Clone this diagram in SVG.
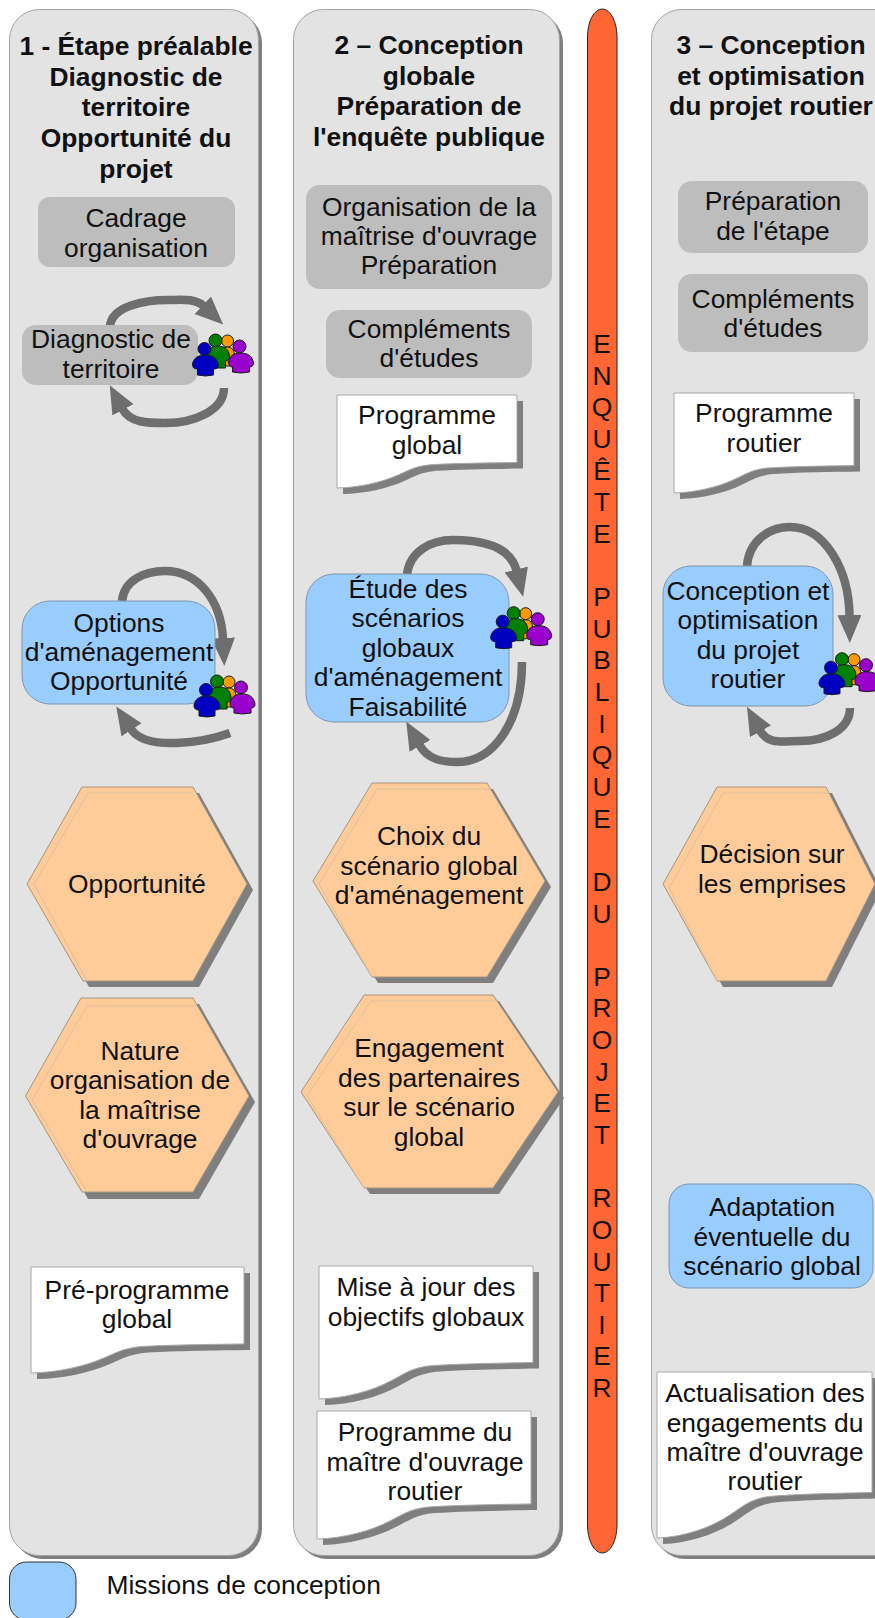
<svg xmlns="http://www.w3.org/2000/svg" width="875" height="1618" viewBox="0 0 875 1618">
<style>
text{font-family:"Liberation Sans",Arial,sans-serif;fill:#111;text-anchor:middle}
.t{font-size:26.400px}
.h{font-size:26.400px;font-weight:bold}
.panel{fill:#e3e3e3;stroke:#a3a3a3;stroke-width:1}
.pshadow{fill:#7f7f7f}
.gray{fill:#bdbdbd}
.blue{fill:#99ccff;stroke:#7d97ad;stroke-width:1}
.hex{fill:#ffcc99;stroke:#a3957f;stroke-width:1}
.inner{fill:none;stroke:#dcc0a0;stroke-width:1}
.sh{fill:#7f7f7f}
.doc{fill:#fff;stroke:#a8a8a8;stroke-width:1}
.docs{fill:#7f7f7f}
.arr{fill:none;stroke:#6e6e6e;stroke-width:8.500;marker-end:url(#head)}
</style>
<defs>
<marker id="head" markerUnits="userSpaceOnUse" markerWidth="30" markerHeight="26" refX="1" refY="12" orient="auto"><path d="M0 0L28 12L0 24Z" fill="#6e6e6e"/></marker>
<path id="docS" vector-effect="non-scaling-stroke" d="M0 0H100V72.600C85 73 65 73.500 52 75C43 76.500 39 82 34 86C25 94 12 99.500 0 100Z"/>
<g id="people" stroke-linejoin="round" stroke="#1a1a1a" stroke-width="1">
<g fill="#ff9900"><circle cx="35" cy="7" r="6"/><path d="M28 20Q29 13 35 13Q41 13 42 20V32H30Z"/></g>
<g fill="#008000"><circle cx="23" cy="6.500" r="6.500"/><path d="M15 22C15 15 19 12 25 12C32 12 36 15 37 22C37 26 35 27 33 27V34H18V27C16 27 15 26 15 22Z"/></g>
<g fill="#9900cc"><circle cx="47" cy="12.500" r="6.500"/><path d="M36 28C37 22 41 19 48 19C55 19 60 22 61 29C61 32 59 33 57 33V38Q48 40 40 38V33C38 33 36 32 36 28Z"/></g>
<g fill="#0000c0"><circle cx="12" cy="15" r="6.500"/><path d="M0 30C1 24 6 21 12 21C19 21 25 24 26 31C26 34 24 35 21 35V41Q13 43 5 41V35C2 35 0 34 0 30Z"/></g>
</g>
</defs>

<g id="panels">
<rect class="pshadow" x="13" y="13" width="249" height="1546" rx="30"/>
<rect class="panel" x="9.500" y="9.500" width="249" height="1546" rx="30"/>
<rect class="pshadow" x="297" y="13" width="266" height="1546" rx="30"/>
<rect class="panel" x="293.500" y="9.500" width="266" height="1546" rx="30"/>
<rect class="pshadow" x="655" y="13" width="300" height="1546" rx="30"/>
<rect class="panel" x="651.500" y="9.500" width="300" height="1546" rx="30"/>
</g>

<g id="titles">
<text class="h"><tspan x="136" y="55">1 - Étape préalable</tspan><tspan x="136" y="86">Diagnostic de</tspan><tspan x="136" y="116">territoire</tspan><tspan x="136" y="147">Opportunité du</tspan><tspan x="136" y="178">projet</tspan></text>
<text class="h"><tspan x="429" y="54">2 – Conception</tspan><tspan x="429" y="85">globale</tspan><tspan x="429" y="115">Préparation de</tspan><tspan x="429" y="146">l'enquête publique</tspan></text>
<text class="h"><tspan x="771" y="54">3 – Conception</tspan><tspan x="771" y="85">et optimisation</tspan><tspan x="771" y="115">du projet routier</tspan></text>
</g>

<g id="connectors">
<path class="arr" d="M110 326C112 306 145 300 168 300C180 300 195 298 203.500 306"/>
<path class="arr" d="M224 388C224 410 195 423 165 423C148 423 130 423 122.500 409"/>
<path class="arr" d="M122 601C124 580 145 571 165 571C198 571 221 600 223 639"/>
<path class="arr" d="M230 733C205 742 146 752 131 729"/>
<path class="arr" d="M407 574C410 552 430 540 453 540C480 540 510 545 516.500 570.500"/>
<path class="arr" d="M522 662C522 720 495 762 457 762C443 762 428 760 419.500 745"/>
<path class="arr" d="M747 566C749 540 770 527 790 527C825 527 849 570 849.500 616"/>
<path class="arr" d="M850 708C850 730 825 741 800 741C783 741 768 745 760 730.500"/>
</g>

<g id="n-cadrage"><rect class="gray" x="38" y="197" width="197" height="70" rx="12"/><text class="t"><tspan x="136" y="227">Cadrage</tspan><tspan x="136" y="257">organisation</tspan></text></g>
<g id="n-diagnostic"><rect class="gray" x="22" y="325" width="176" height="60" rx="14"/><text class="t"><tspan x="111" y="348">Diagnostic de</tspan><tspan x="111" y="378">territoire</tspan></text><use href="#people" x="192.500" y="334"/></g>
<g id="n-options"><rect class="blue" x="22" y="601" width="193" height="103" rx="28"/><text class="t"><tspan x="119" y="632">Options</tspan><tspan x="119" y="661">d'aménagement</tspan><tspan x="119" y="690">Opportunité</tspan></text><use href="#people" x="194" y="675"/></g>
<g id="n-opportunite"><polygon class="sh" points="33,890 88,793 199,793 253,890 199,987 89,987"/><polygon class="hex" points="27,884 82,787 193,787 247,884 193,981 83,981"/><polyline class="inner" points="193,793 88,793 34,884 87,981"/><text class="t" x="137" y="893">Opportunité</text></g>
<g id="n-nature"><polygon class="sh" points="32,1102 87,1004 199,1004 255,1102 199,1199 88,1199"/><polygon class="hex" points="25.500,1096 81,998 193,998 249,1096 193,1192 82,1192"/><polyline class="inner" points="196,1006 87,1006 32,1100 87,1192"/><text class="t"><tspan x="140" y="1060">Nature</tspan><tspan x="140" y="1089">organisation de</tspan><tspan x="140" y="1119">la maîtrise</tspan><tspan x="140" y="1148">d'ouvrage</tspan></text></g>
<g id="n-pre"><use class="docs" href="#docS" transform="translate(37 1273) scale(2.130 1.060)"/><use class="doc" href="#docS" transform="translate(31 1267) scale(2.130 1.060)"/><text class="t"><tspan x="137" y="1299">Pré-programme</tspan><tspan x="137" y="1328">global</tspan></text></g>

<g id="n-orga"><rect class="gray" x="306" y="185" width="246" height="104" rx="14"/><text class="t"><tspan x="429" y="216">Organisation de la</tspan><tspan x="429" y="245">maîtrise d'ouvrage</tspan><tspan x="429" y="274">Préparation</tspan></text></g>
<g id="n-comp2"><rect class="gray" x="326" y="310" width="206" height="68" rx="14"/><text class="t"><tspan x="429" y="338">Compléments</tspan><tspan x="429" y="367">d'études</tspan></text></g>
<g id="n-progglobal"><use class="docs" href="#docS" transform="translate(343 401) scale(1.800 .930)"/><use class="doc" href="#docS" transform="translate(337 395) scale(1.800 .930)"/><text class="t"><tspan x="427" y="424">Programme</tspan><tspan x="427" y="454">global</tspan></text></g>
<g id="n-etude"><rect class="blue" x="306" y="574" width="203" height="148" rx="28"/><text class="t"><tspan x="408" y="598">Étude des</tspan><tspan x="408" y="627">scénarios</tspan><tspan x="408" y="657">globaux</tspan><tspan x="408" y="686">d'aménagement</tspan><tspan x="408" y="716">Faisabilité</tspan></text><use href="#people" x="490.700" y="606.700"/></g>
<g id="n-choix"><polygon class="sh" points="319,887 378,789 493,789 551,887 493,983 378,983"/><polygon class="hex" points="313,881 372,783 487,783 545,881 487,977 372,977"/><polyline class="inner" points="490,789 377,789 319,884 372,977"/><text class="t"><tspan x="429" y="845">Choix du</tspan><tspan x="429" y="875">scénario global</tspan><tspan x="429" y="904">d'aménagement</tspan></text></g>
<g id="n-engagement"><polygon class="sh" points="307,1098 370,1001 499,1001 564,1098 499,1194 370,1194"/><polygon class="hex" points="301,1092 364,995 493,995 558,1092 493,1188 364,1188"/><polyline class="inner" points="496,1001 371,1001 307,1096 364,1188"/><text class="t"><tspan x="429" y="1057">Engagement</tspan><tspan x="429" y="1087">des partenaires</tspan><tspan x="429" y="1116">sur le scénario</tspan><tspan x="429" y="1146">global</tspan></text></g>
<g id="n-mise"><use class="docs" href="#docS" transform="translate(325 1272) scale(2.140 1.330)"/><use class="doc" href="#docS" transform="translate(319 1266) scale(2.140 1.330)"/><text class="t"><tspan x="426" y="1296">Mise à jour des</tspan><tspan x="426" y="1326">objectifs globaux</tspan></text></g>
<g id="n-progmo"><use class="docs" href="#docS" transform="translate(323 1417) scale(2.140 1.280)"/><use class="doc" href="#docS" transform="translate(317 1411) scale(2.140 1.280)"/><text class="t"><tspan x="425" y="1441">Programme du</tspan><tspan x="425" y="1471">maître d'ouvrage</tspan><tspan x="425" y="1500">routier</tspan></text></g>

<g id="n-enquete"><rect x="587.500" y="9" width="29.500" height="1544" rx="14.750" ry="28" fill="#ff6633" stroke="#222" stroke-width="1"/>
<text style="font-size:26.400px"><tspan x="602" y="353">E</tspan><tspan x="602" dy="31.640">N</tspan><tspan x="602" dy="31.640">Q</tspan><tspan x="602" dy="31.640">U</tspan><tspan x="602" dy="31.640">Ê</tspan><tspan x="602" dy="31.640">T</tspan><tspan x="602" dy="31.640">E</tspan><tspan x="602" dy="63.280">P</tspan><tspan x="602" dy="31.640">U</tspan><tspan x="602" dy="31.640">B</tspan><tspan x="602" dy="31.640">L</tspan><tspan x="602" dy="31.640">I</tspan><tspan x="602" dy="31.640">Q</tspan><tspan x="602" dy="31.640">U</tspan><tspan x="602" dy="31.640">E</tspan><tspan x="602" dy="63.280">D</tspan><tspan x="602" dy="31.640">U</tspan><tspan x="602" dy="63.280">P</tspan><tspan x="602" dy="31.640">R</tspan><tspan x="602" dy="31.640">O</tspan><tspan x="602" dy="31.640">J</tspan><tspan x="602" dy="31.640">E</tspan><tspan x="602" dy="31.640">T</tspan><tspan x="602" dy="63.280">R</tspan><tspan x="602" dy="31.640">O</tspan><tspan x="602" dy="31.640">U</tspan><tspan x="602" dy="31.640">T</tspan><tspan x="602" dy="31.640">I</tspan><tspan x="602" dy="31.640">E</tspan><tspan x="602" dy="31.640">R</tspan></text></g>

<g id="n-prep3"><rect class="gray" x="678" y="181" width="190" height="72" rx="14"/><text class="t"><tspan x="773" y="210">Préparation</tspan><tspan x="773" y="240">de l'étape</tspan></text></g>
<g id="n-comp3"><rect class="gray" x="678" y="274" width="190" height="78" rx="14"/><text class="t"><tspan x="773" y="308">Compléments</tspan><tspan x="773" y="337">d'études</tspan></text></g>
<g id="n-progroutier"><use class="docs" href="#docS" transform="translate(680 399) scale(1.800 1)"/><use class="doc" href="#docS" transform="translate(674 393) scale(1.800 1)"/><text class="t"><tspan x="764" y="422">Programme</tspan><tspan x="764" y="452">routier</tspan></text></g>
<g id="n-conception"><rect class="blue" x="663" y="566" width="170" height="140" rx="28"/><text class="t"><tspan x="748" y="600">Conception et</tspan><tspan x="748" y="629">optimisation</tspan><tspan x="748" y="659">du projet</tspan><tspan x="748" y="688">routier</tspan></text><use href="#people" x="819" y="652.700"/></g>
<g id="n-decision"><polygon class="sh" points="669,890 723,793 832,793 881,890 832,987 723,987"/><polygon class="hex" points="663,884 717,787 826,787 875,884 826,981 717,981"/><polyline class="inner" points="829,793 723,793 669,888 717,981"/><text class="t"><tspan x="772" y="863">Décision sur</tspan><tspan x="772" y="893">les emprises</tspan></text></g>
<g id="n-adaptation"><rect class="blue" x="669" y="1184" width="204" height="104" rx="20"/><text class="t"><tspan x="772" y="1216">Adaptation</tspan><tspan x="772" y="1246">éventuelle du</tspan><tspan x="772" y="1275">scénario global</tspan></text></g>
<g id="n-actualisation"><use class="docs" href="#docS" transform="translate(663 1378) scale(2.150 1.660)"/><use class="doc" href="#docS" transform="translate(657 1372) scale(2.150 1.660)"/><text class="t"><tspan x="765" y="1402">Actualisation des</tspan><tspan x="765" y="1432">engagements du</tspan><tspan x="765" y="1461">maître d'ouvrage</tspan><tspan x="765" y="1490">routier</tspan></text></g>

<g id="legend"><rect x="9.500" y="1562" width="66.500" height="58" rx="17" fill="#99ccff" stroke="#333" stroke-width="1"/><text class="t" x="106.500" y="1594" style="text-anchor:start">Missions de conception</text></g>
</svg>
